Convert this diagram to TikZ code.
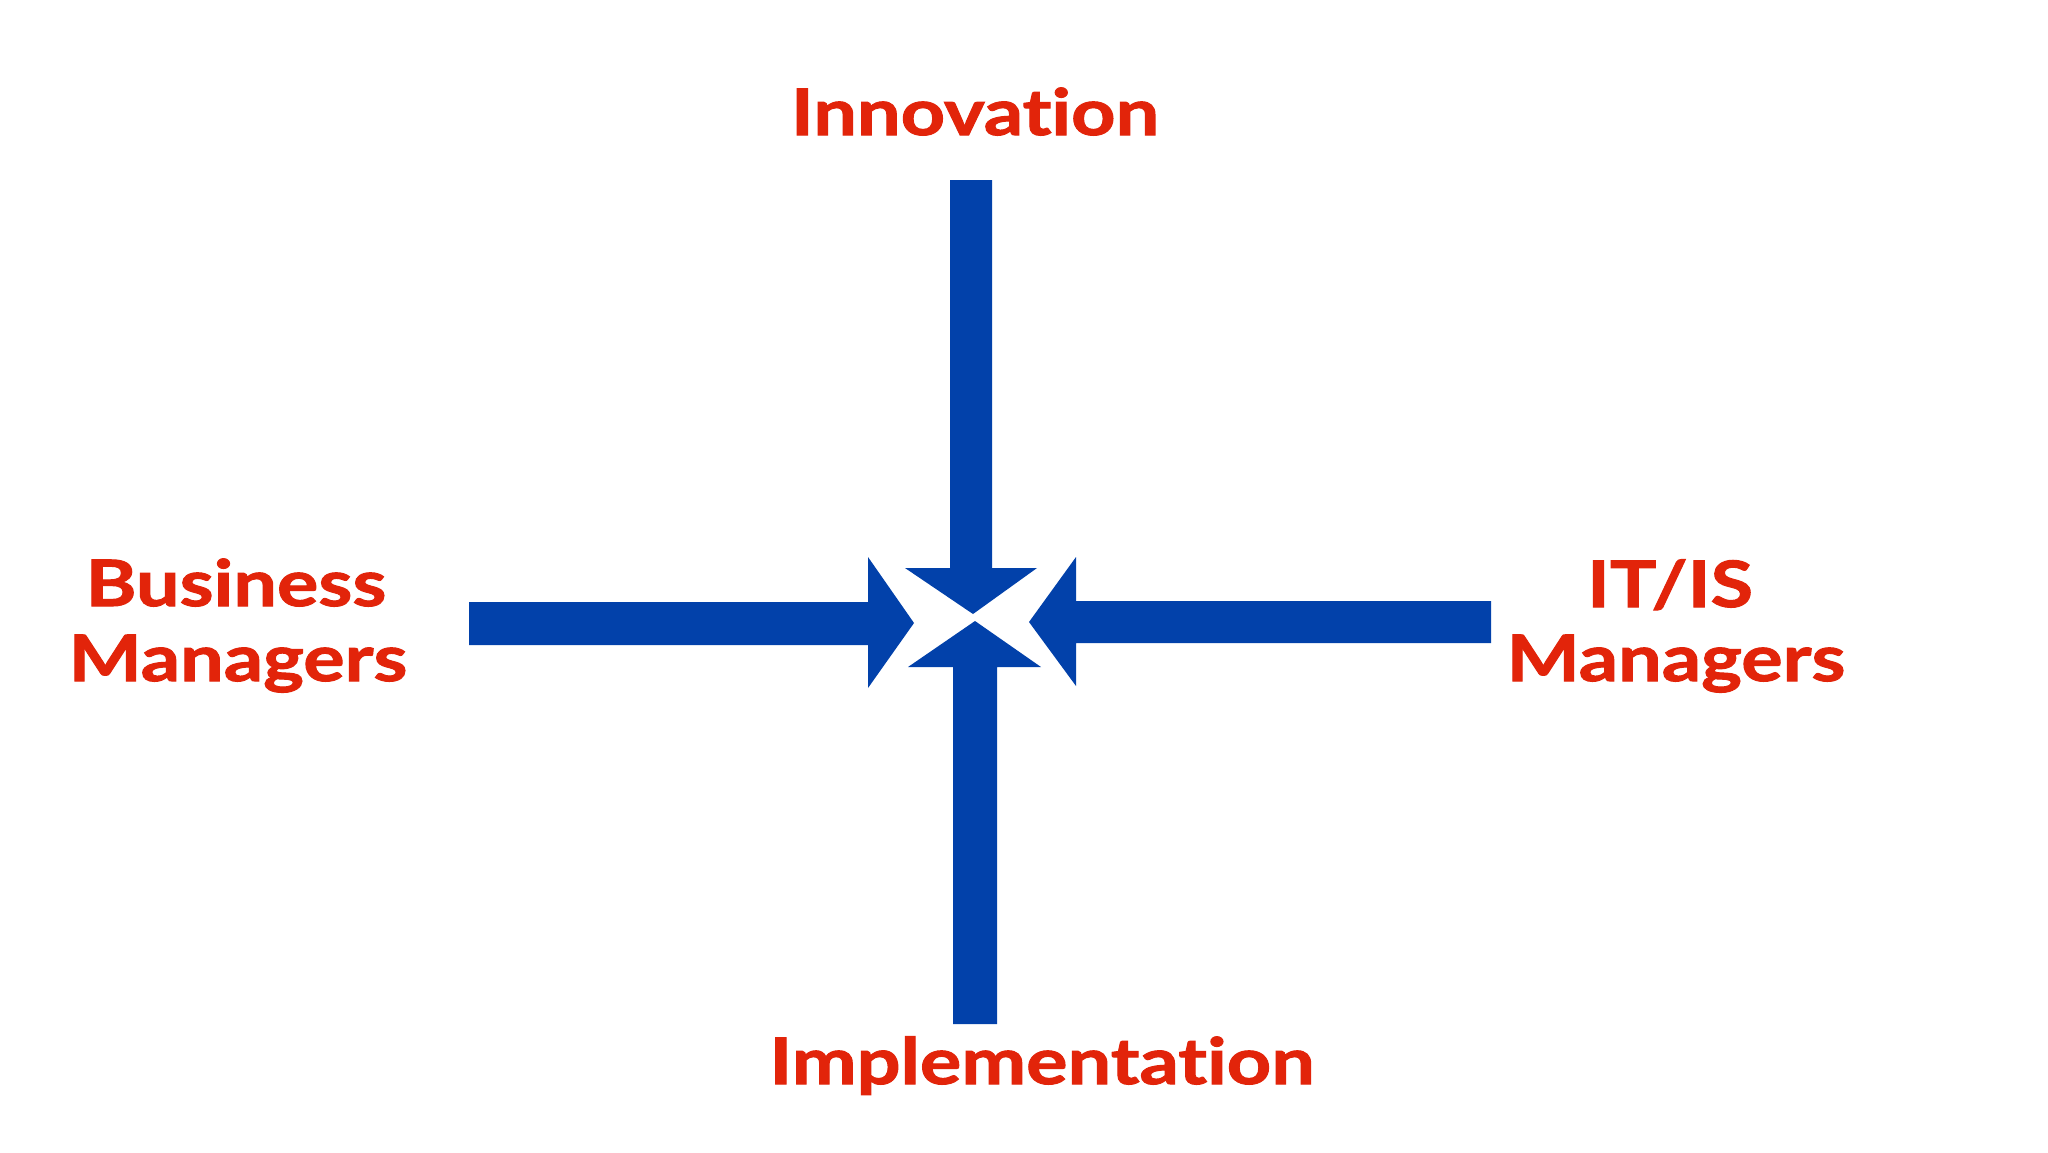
\documentclass[tikz,border=0pt]{standalone}
\usepackage{fontspec}
\setmainfont{Lato}[Ligatures={NoCommon}, BoldFeatures={FakeBold=1.6,FakeStretch=1.21}]
\definecolor{arrowblue}{RGB}{2,65,170}
\definecolor{labelred}{RGB}{226,36,10}
\begin{document}
\begin{tikzpicture}[x=0.5pt,y=-0.5pt,
  lbl/.style={text=labelred,font=\fontsize{32}{37.5}\selectfont\bfseries,align=center,inner sep=0pt},
  arr/.style={fill=arrowblue,draw=none}]
\useasboundingbox (0,0) rectangle (2048,1152);
\fill[white] (0,0) rectangle (2048,1152);
% arrows
\fill[arr] (950,180) -- (992,180) -- (992,568) -- (1037,568) -- (973,614) -- (905,568) -- (950,568) -- cycle;
\fill[arr] (953,1024) -- (997,1024) -- (997,667) -- (1041,667) -- (975,621) -- (908,667) -- (953,667) -- cycle;
\fill[arr] (469,602) -- (868,602) -- (868,557) -- (914,623) -- (868,688) -- (868,645) -- (469,645) -- cycle;
\fill[arr] (1491,601) -- (1076,601) -- (1076,557) -- (1029,622) -- (1076,686) -- (1076,643) -- (1491,643) -- cycle;
% labels
\node[lbl,anchor=base] (innov) at (975,135) {Innovation};
\node[lbl,anchor=base] (impl) at (1042,1084) {Implementation};
\node[lbl,anchor=base] (bus1) at (236,606) {Business};
\node[lbl,anchor=base] (bus2) at (238,681) {Managers};
\node[lbl,anchor=base] (it1) at (1670,607) {IT/IS};
\node[lbl,anchor=base] (it2) at (1676,681) {Managers};
\end{tikzpicture}
\end{document}
